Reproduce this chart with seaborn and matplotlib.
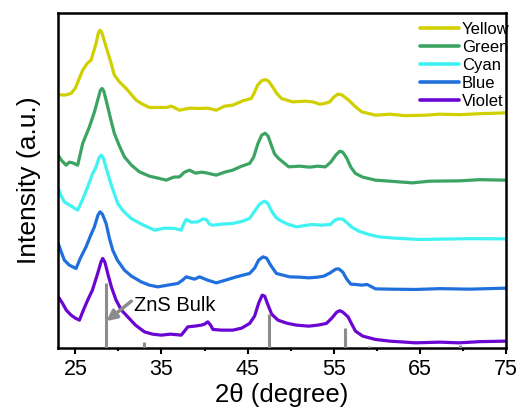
import numpy as np
import pandas as pd
import matplotlib
matplotlib.use('Agg')
import matplotlib.pyplot as plt
from matplotlib.ticker import MultipleLocator
import seaborn as sns

# XRD patterns (2theta, stacked intensity in a.u.)
yellow_x = [23.0, 23.72, 24.5, 25.0, 25.47, 25.85, 26.4, 26.83, 27.1, 27.41, 27.67, 27.85,
            28.02, 28.17, 28.57, 29.15, 29.53, 30.12, 30.9, 32.06, 32.8, 33.6, 35.55, 36.16,
            37.09, 38.26, 39.42, 40.35, 41.36, 42.33, 43.26, 44.42, 45.43, 45.81, 46.16,
            46.63, 47.06, 47.44, 47.9, 48.37, 48.92, 50.23, 51.63, 52.56, 53.37, 54.07,
            54.53, 55.0, 55.47, 55.9, 56.28, 56.74, 57.44, 58.26, 59.85, 61.5, 63.26,
            65.66, 67.33, 69.65, 71.98, 74.97]
yellow_y = [253.7, 253, 254.7, 260, 270, 278, 285, 288, 296, 305, 315, 318,
            316.5, 313, 301.3, 285, 273, 266.3, 259.7, 248, 244, 240.7, 240.7, 242,
            238, 240, 239.7, 240, 238, 242, 243, 247.3, 249.7, 256, 263,
            267.5, 268.5, 267, 261.3, 255, 249.7, 246.3, 247, 246.3, 244, 245,
            246.3, 251, 254, 253.5, 251, 248, 242, 236.3, 233, 234, 232.5,
            233, 234, 233.5, 234.5, 235.3]

green_x = [23.0, 23.37, 23.92, 24.3, 24.69, 25.27, 25.85, 26.63, 27.21, 27.59, 27.91, 28.1,
           28.31, 28.76, 29.13, 29.53, 30.12, 30.7, 31.51, 32.44, 33.6, 34.77, 35.55, 36.4,
           37.09, 37.67, 38.26, 38.95, 39.65, 40.2, 41.36, 42.33, 43.26, 44.3, 45.23, 45.7,
           46.2, 46.63, 47.03, 47.38, 47.79, 48.14, 48.6, 49.77, 51.05, 52.21, 53.14, 54.03,
           54.65, 55.23, 55.7, 56.05, 56.51, 56.98, 57.52, 58.37, 59.85, 61.51, 64.1,
           66.16, 69.53, 71.98, 74.97]
green_y = [193, 188, 183, 186, 185.3, 183, 204.7, 221.3, 236, 248, 258, 259.7,
           257, 241.3, 228, 214.7, 202, 191.3, 183, 176.3, 172, 169.7, 168, 171,
           171.3, 176, 178, 175, 176, 175.3, 173, 176, 178, 182, 184.7, 191,
           204.7, 213, 215, 212, 202, 194, 189.7, 181.3, 182, 181, 182, 181.3,
           186, 193, 197, 196, 190, 181, 174.7, 171, 168, 167, 165.3,
           167, 167.3, 168.5, 168]

cyan_x = [23.02, 23.37, 23.72, 24.53, 25.27, 25.81, 26.43, 26.98, 27.41, 27.73, 27.99, 28.26,
          28.76, 29.3, 29.92, 30.58, 31.48, 32.67, 34.19, 35.35, 36.51, 37.29, 37.56, 37.87,
          38.49, 39.22, 39.77, 40.2, 40.58, 40.97, 41.98, 43.29, 44.42, 45.23, 45.81, 46.4,
          46.92, 47.33, 47.79, 48.26, 48.72, 49.65, 50.66, 52.48, 53.6, 54.62, 55.12, 55.58,
          56.05, 56.55, 57.09, 57.91, 58.95, 60.23, 62.09, 64.88, 67.33, 70.81, 74.97]
cyan_y = [159.7, 152, 146.3, 142, 138, 148, 161.3, 174, 181.3, 190, 193, 190,
          174.7, 160, 144.7, 137, 129.7, 124, 118, 120, 119.7, 118, 124, 128.7,
          126, 126.3, 129, 128.7, 124, 123, 124, 124.7, 127, 129.7, 137, 144,
          147, 145, 137, 131, 128, 124, 121.3, 123.7, 123, 123.7, 128, 129.3,
          129, 125.3, 121, 117, 114, 111.3, 110, 108.7, 109, 109.5, 109.3]

blue_x = [23.02, 23.37, 23.72, 24.3, 25.08, 25.58, 26.24, 26.74, 27.21, 27.62, 27.87, 28.14,
          28.57, 28.95, 29.34, 29.88, 30.7, 31.51, 32.64, 33.6, 34.57, 35.7, 36.9, 37.44,
          37.87, 38.84, 39.42, 40.35, 41.36, 42.44, 43.69, 45.23, 45.81, 46.28, 46.78, 47.21,
          47.67, 48.34, 49.88, 51.05, 52.09, 53.14, 53.84, 54.53, 55.23, 55.58, 56.05, 56.51,
          56.98, 57.52, 58.26, 58.87, 59.85, 61.51, 64.5, 67.33, 70.81, 74.97]
blue_y = [104.7, 96, 88, 83, 79.7, 90, 101.3, 112, 121.3, 133, 136.3, 134,
          124.7, 110, 98, 88, 78, 72, 66.3, 63, 61.3, 63, 64.7, 68,
          71.3, 69, 71.3, 68, 65.3, 68, 71.3, 74.7, 80, 88, 91.3, 90,
          83, 74.7, 71.3, 71, 70.3, 71, 72, 75, 79, 79.3, 76, 69,
          64, 63.7, 63, 63.7, 59.3, 59, 58.7, 59.5, 59, 60]

violet_x = [23.02, 23.52, 23.95, 24.5, 25.0, 25.47, 25.93, 26.43, 26.98, 27.59, 27.97, 28.17,
            28.43, 28.76, 29.19, 29.73, 30.35, 31.08, 31.98, 33.02, 33.95, 34.97, 36.05, 37.29,
            37.67, 38.06, 38.84, 39.62, 40.0, 40.38, 40.7, 40.97, 41.98, 43.29, 44.3, 45.23,
            45.81, 46.28, 46.69, 46.98, 47.33, 47.79, 48.52, 49.53, 50.66, 52.09, 53.14, 54.15,
            54.77, 55.35, 55.7, 56.05, 56.66, 57.09, 57.52, 58.37, 59.85, 61.51, 64.5, 67.33,
            69.53, 71.98, 74.97]
violet_y = [51.3, 44.7, 38, 33, 30, 28, 38, 48, 58, 74.7, 86, 89.7,
            86, 74.7, 61, 48, 38, 31.3, 23, 16.3, 14, 13, 14, 13,
            17, 21.3, 22, 23, 24, 26.3, 23, 18.7, 18, 18, 20, 24.7,
            32, 45, 53, 52, 44, 34, 28, 25, 23, 22, 23, 24.7,
            30, 36, 37.5, 36, 31.3, 24, 17, 12, 8.7, 7, 5.3, 6,
            5.3, 6.5, 7]

# bulk ZnS reference lines
ref_pos = [28.5, 33.0, 47.5, 56.3, 59.1, 69.6]
ref_height = [65, 6.5, 34, 20, 2.5, 3]

names = ['Yellow', 'Green', 'Cyan', 'Blue', 'Violet']
colors = ['#d0d000', '#3ca462', '#40f2f2', '#1f6fdc', '#6a05d2']

frames = []
for n, xs, ys in zip(names, [yellow_x, green_x, cyan_x, blue_x, violet_x],
                     [yellow_y, green_y, cyan_y, blue_y, violet_y]):
    frames.append(pd.DataFrame({'two_theta': xs, 'intensity': ys, 'sample': n}))
df = pd.concat(frames, ignore_index=True)

sns.set_style('ticks')
plt.rcParams['font.family'] = ['Liberation Sans', 'DejaVu Sans']
plt.rcParams['text.color'] = 'black'
plt.rcParams['axes.labelcolor'] = 'black'
plt.rcParams['xtick.color'] = 'black'

fig = plt.figure(figsize=(5.19, 4.12), dpi=100)
ax = fig.add_axes([0.112, 0.155, 0.863, 0.813])

sns.lineplot(data=df, x='two_theta', y='intensity', hue='sample', hue_order=names,
             palette=dict(zip(names, colors)), sort=False, estimator=None,
             linewidth=2.3, ax=ax)

ax.vlines(ref_pos, 0, ref_height, color='#8c8c8c', linewidth=2.2, zorder=3)

# arrow and label for the bulk reference
ax.annotate('', xy=(28.62, 27), xytext=(31.5, 47),
            arrowprops=dict(arrowstyle='-|>', color='#8c8c8c', lw=2.5,
                            mutation_scale=15, shrinkA=0, shrinkB=0))
ax.text(31.85, 43, 'ZnS Bulk', fontsize=14.5, va='center', ha='left')

ax.set_xlim(23, 75)
ax.set_ylim(0, 335)
ax.xaxis.set_minor_locator(MultipleLocator(5))
ax.set_xticks([25, 35, 45, 55, 65, 75])
ax.set_yticks([])
ax.tick_params(axis='x', which='major', direction='out', length=4, width=1.5,
               labelsize=15.5, pad=4)
ax.tick_params(axis='x', which='minor', direction='out', length=2, width=1.5)
for s in ax.spines.values():
    s.set_visible(True)
    s.set_linewidth(1.8)
    s.set_color('black')

ax.set_xlabel('2θ (degree)', fontsize=18.5, labelpad=2)
ax.set_ylabel('Intensity (a.u.)', fontsize=19, labelpad=12)

leg = ax.legend(loc='upper right', bbox_to_anchor=(1.008, 0.975), frameon=False,
                fontsize=12, handlelength=2.3, handletextpad=0.2, labelspacing=0.18,
                borderaxespad=0, borderpad=0)
for line in leg.get_lines():
    line.set_linewidth(2.6)

fig.savefig('out.png', dpi=100)
